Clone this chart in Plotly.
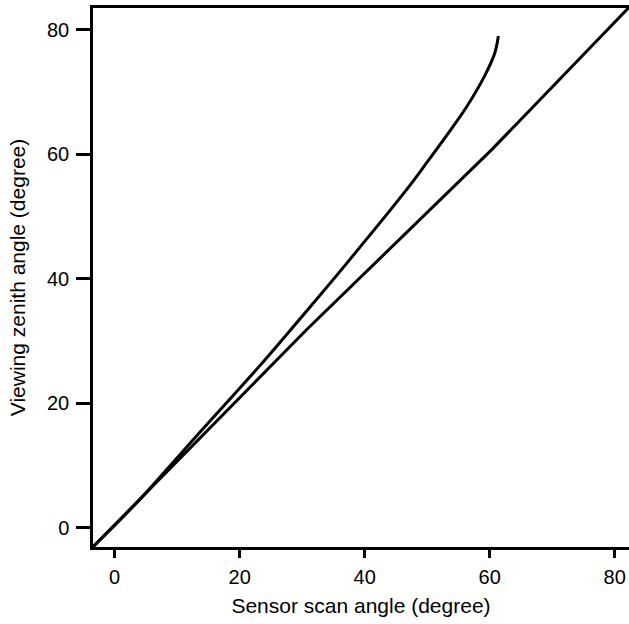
import plotly.graph_objects as go

# Curve: viewing zenith angle vs sensor scan angle
scan_curve = [-3.5, 4.0, 10.4, 16.3, 23.2, 29.6, 35.5, 38.7, 44.0, 47.7, 49.9, 53.1, 56.3, 59.2, 60.8, 61.4]
vza_curve = [-3.1, 4.5, 11.7, 18.3, 26.0, 33.5, 40.5, 44.4, 50.9, 55.6, 58.6, 63.0, 67.6, 72.6, 76.2, 79.0]

# Straight reference line
scan_line = [-3.5, 30.7, 60.3, 82.3]
vza_line = [-3.1, 31.8, 60.7, 83.6]

tick_vals = [0, 20, 40, 60, 80]
tick_text = ["0", "20", "40", "60", "80"]

font_family = "Liberation Sans, Arial, sans-serif"

fig = go.Figure()
fig.add_trace(go.Scatter(x=scan_line, y=vza_line, mode="lines",
                         line=dict(color="black", width=3), showlegend=False))
fig.add_trace(go.Scatter(x=scan_curve, y=vza_curve, mode="lines",
                         line=dict(color="black", width=3, shape="spline", smoothing=1.0),
                         showlegend=False))

fig.update_layout(
    width=629, height=624,
    margin=dict(l=93, r=0, t=8, b=77),
    paper_bgcolor="white", plot_bgcolor="white",
    font=dict(family=font_family, color="black"),
    xaxis=dict(
        range=[-3.47, 82.3], tickvals=tick_vals, ticktext=tick_text,
        showgrid=False, zeroline=False,
        showline=True, linecolor="black", linewidth=2.5, mirror=True,
        ticks="outside", ticklen=8, tickwidth=3, tickcolor="black",
        tickfont=dict(size=20), ticklabelstandoff=2,
        title=dict(text="Sensor scan angle (degree)", font=dict(size=21), standoff=12),
    ),
    yaxis=dict(
        range=[-3.1, 83.5], tickvals=tick_vals, ticktext=tick_text,
        showgrid=False, zeroline=False,
        showline=True, linecolor="black", linewidth=2.5, mirror=False,
        ticks="outside", ticklen=14, tickwidth=3, tickcolor="black",
        tickfont=dict(size=20), ticklabelstandoff=3,
        title=dict(text="Viewing zenith angle (degree)", font=dict(size=21), standoff=16),
    ),
)

fig.write_html("out.html")
